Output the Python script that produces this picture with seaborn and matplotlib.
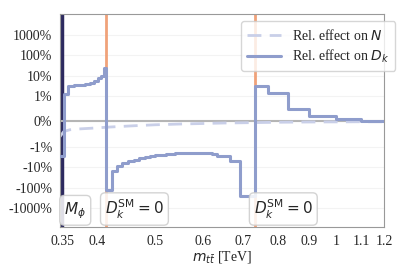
import numpy as np
import pandas as pd
import matplotlib
matplotlib.use('Agg')
import matplotlib.pyplot as plt
import matplotlib.transforms as mtransforms
from matplotlib.ticker import FixedLocator, FixedFormatter, NullLocator
import seaborn as sns

# Bin edges in m_tt [TeV] and relative effect on D_k [%]
dk_edges = [0.347, 0.352, 0.358, 0.366, 0.374, 0.382, 0.389, 0.395, 0.401, 0.406, 0.410, 0.4145,
            0.424, 0.432, 0.44, 0.45, 0.46, 0.47, 0.48, 0.49, 0.50, 0.52, 0.54, 0.56, 0.58, 0.60,
            0.62, 0.633, 0.666, 0.692, 0.733,
            0.77, 0.83, 0.9, 1.0, 1.1, 1.2]
dk_values = [-3, 1.3, 3.2, 3.4, 3.6, 4.0, 4.6, 5.6, 7.5, 10, 24,
             -124, -15, -9, -6.5, -5.2, -4.3, -3.7, -3.2, -2.9, -2.6, -2.3, -2.1, -2.0, -2.0,
             -2.1, -2.3, -3.0, -5.2, -240,
             3.3, 1.5, 0.5, 0.22, 0.09, 0.03]

# Relative effect on N [%]
n_mass = [0.347, 0.352, 0.36, 0.37, 0.39, 0.42, 0.46, 0.5, 0.55, 0.6, 0.65, 0.7, 0.75, 0.8, 0.9, 1.0, 1.1, 1.2]
n_values = [-0.6, -0.4, -0.33, -0.3, -0.27, -0.22, -0.17, -0.13, -0.1, -0.08, -0.06, -0.05, -0.04,
            -0.03, -0.02, -0.015, -0.01, -0.01]

m_phi = 0.35
dk_zero = [0.4145, 0.733]

xticks = [0.35, 0.4, 0.5, 0.6, 0.7, 0.8, 0.9, 1, 1.1, 1.2]
xticklabels = ['0.35', '0.4', '0.5', '0.6', '0.7', '0.8', '0.9', '1', '1.1', '1.2']
yticks = [-1000, -100, -10, -1, 0, 1, 10, 100, 1000]
yticklabels = ['-1000%', '-100%', '-10%', '-1%', '0%', '1%', '10%', '100%', '1000%']

sns.set_style('whitegrid', {'grid.color': '#f3f3f3', 'axes.edgecolor': '#999999'})
plt.rcParams['font.family'] = ['Liberation Serif', 'DejaVu Sans']
plt.rcParams['mathtext.fontset'] = 'dejavusans'

fig, ax = plt.subplots(figsize=(4.07, 2.71), dpi=100)
fig.subplots_adjust(left=60/407, right=384/407, bottom=1-227/271, top=1-14/271)

dk_df = pd.DataFrame({'m': dk_edges, 'val': dk_values + [dk_values[-1]]})
n_df = pd.DataFrame({'m': n_mass, 'val': n_values})

ax.axhline(0, color='#b5b5b5', lw=1.5, zorder=1.5)
ax.axvline(m_phi, color='#2d2a5f', lw=3.2, zorder=1)
for xz in dk_zero:
    ax.axvline(xz, color='#f0a27a', lw=2, zorder=1)

sns.lineplot(data=n_df, x='m', y='val', ax=ax, color='#c9cfe8', lw=2, ls=(0, (5, 3)),
             estimator=None, sort=False, label='Rel. effect on $N$', zorder=2)
sns.lineplot(data=dk_df, x='m', y='val', ax=ax, color='#8f9dcc', lw=2.2, drawstyle='steps-post',
             estimator=None, sort=False, label='Rel. effect on $D_k$', zorder=3)

ax.set_xscale('log')
ax.set_yscale('symlog', linthresh=1, linscale=1.1)
ax.set_xlim(0.347, 1.2)
ax.set_ylim(-8000, 10000)

ax.xaxis.set_major_locator(FixedLocator(xticks))
ax.xaxis.set_major_formatter(FixedFormatter(xticklabels))
ax.xaxis.set_minor_locator(NullLocator())
ax.yaxis.set_major_locator(FixedLocator(yticks))
ax.yaxis.set_major_formatter(FixedFormatter(yticklabels))
ax.yaxis.set_minor_locator(NullLocator())
ax.tick_params(labelsize=10, pad=2)
ax.grid(axis='x', visible=False)

ax.set_xlabel(r'$m_{t\bar{t}}$ [TeV]', fontsize=10, labelpad=1)
ax.set_ylabel('')

trans = mtransforms.blended_transform_factory(ax.transData, ax.transAxes)
box = dict(boxstyle='round,pad=0.3', fc='white', ec='#cccccc', alpha=0.85)
ax.text(m_phi * 1.008, 0.03, r'$M_\phi$', transform=trans, fontsize=11, ha='left', va='bottom',
        bbox=box, zorder=5)
for xz in dk_zero:
    ax.text(xz * 0.995, 0.03, r'$D_k^{\mathrm{SM}} = 0$', transform=trans, fontsize=11,
            ha='left', va='bottom', bbox=box, zorder=5)

leg = ax.legend(loc='upper right', bbox_to_anchor=(1.035, 0.965), fontsize=10, frameon=True,
                handlelength=2.4, borderpad=0.45, labelspacing=0.35, borderaxespad=0)
leg.get_frame().set_edgecolor('#cccccc')

plt.savefig('out.png', dpi=100)
